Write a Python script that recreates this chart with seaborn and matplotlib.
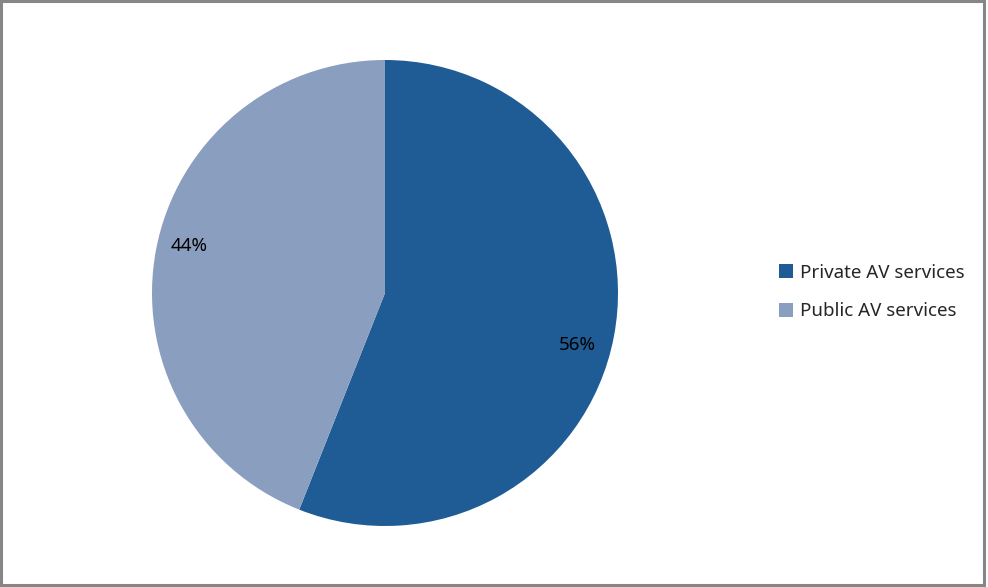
import matplotlib
matplotlib.use("Agg")
import matplotlib.pyplot as plt
import seaborn as sns
import numpy as np
from matplotlib.patches import Rectangle

# data
labels = ["Private AV services", "Public AV services"]
shares = [56, 44]
colors = ["#1F5B94", "#8A9EC0"]

sns.set_theme(style="white")
plt.rcParams["font.family"] = ["Noto Sans", "DejaVu Sans"]

W, H = 988, 587
fig = plt.figure(figsize=(W / 100, H / 100), dpi=100)

# pie centre ~ (385, 293) px, radius ~ 233 px
cx, cy, r = 385, 293, 233
ax = fig.add_axes([(cx - r) / W, (H - cy - r) / H, 2 * r / W, 2 * r / H])

wedges, texts, autotexts = ax.pie(
    shares,
    colors=colors,
    startangle=90,
    counterclock=False,
    autopct="%d%%",
    pctdistance=0.85,
    radius=1,
    wedgeprops={"linewidth": 0},
    textprops={"fontsize": 13.5, "color": "black"},
)
# nudge the percentage labels to where the reference puts them
for t, ang, dist in zip(autotexts, [-15, 166.5], [0.855, 0.865]):
    a = np.deg2rad(ang)
    t.set_position((dist * np.cos(a), dist * np.sin(a)))

ax.set_xlim(-1, 1)
ax.set_ylim(-1, 1)
ax.set_aspect("equal")
ax.axis("off")

fig.legend(
    wedges, labels,
    loc="center left",
    bbox_to_anchor=(762 / W, 1 - 292 / H),
    frameon=False,
    fontsize=13.5,
    handlelength=0.75,
    handleheight=0.75,
    handletextpad=0.35,
    labelspacing=1.1,
)

# grey outer border
fig.patches.append(Rectangle((0.001, 0.003), 0.995, 0.995, transform=fig.transFigure,
                             fill=False, edgecolor="#868686", linewidth=2.2))

fig.savefig("out.png", dpi=100)
